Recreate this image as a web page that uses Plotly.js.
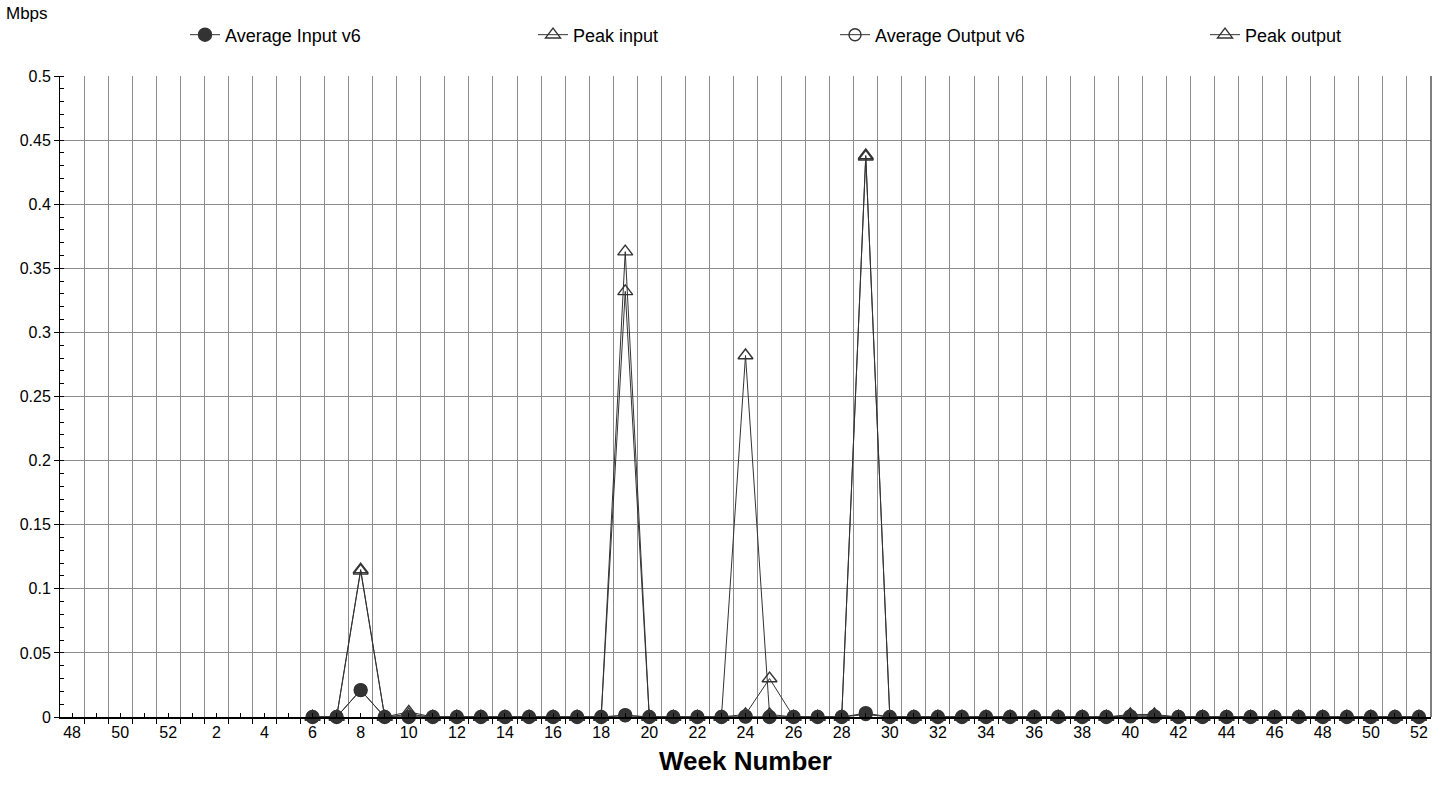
<!DOCTYPE html>
<html>
<head>
<meta charset="utf-8">
<script src="https://cdn.plot.ly/plotly-3.0.1.min.js"></script>
<style>
  html, body { margin: 0; padding: 0; background: #ffffff; }
  #chart { width: 1445px; height: 805px; }
</style>
</head>
<body>
<div id="chart"></div>
<script>
// Week numbers shown along the x axis (end of previous year, then the full year)
const weeks = [48, 49, 50, 51, 52,
  1, 2, 3, 4, 5, 6, 7, 8, 9, 10, 11, 12, 13, 14, 15, 16, 17, 18, 19, 20,
  21, 22, 23, 24, 25, 26, 27, 28, 29, 30, 31, 32, 33, 34, 35, 36, 37, 38, 39, 40,
  41, 42, 43, 44, 45, 46, 47, 48, 49, 50, 51, 52];

// Traffic in Mbps per week (null = no data recorded)
const avgInputV6 = [null, null, null, null, null, null, null, null, null, null,
  0, 0, 0.021, 0, 0, 0, 0, 0, 0, 0, 0, 0, 0, 0.0015, 0,
  0, 0, 0, 0.0005, 0, 0, 0, 0, 0.003, 0, 0, 0, 0, 0, 0, 0, 0, 0, 0, 0.0005,
  0.0005, 0, 0, 0, 0, 0, 0, 0, 0, 0, 0, 0];

const peakInput = [null, null, null, null, null, null, null, null, null, null,
  0, 0, 0.115, 0, 0.004, 0, 0, 0, 0, 0, 0, 0, 0, 0.363, 0,
  0, 0, 0, 0.282, 0.002, 0, 0, 0, 0.438, 0, 0, 0, 0, 0, 0, 0, 0, 0, 0, 0.002,
  0.002, 0, 0, 0, 0, 0, 0, 0, 0, 0, 0, 0];

const avgOutputV6 = [null, null, null, null, null, null, null, null, null, null,
  0, 0, 0.021, 0, 0, 0, 0, 0, 0, 0, 0, 0, 0, 0.001, 0,
  0, 0, 0, 0, 0, 0, 0, 0, 0.002, 0, 0, 0, 0, 0, 0, 0, 0, 0, 0, 0.0005,
  0.0005, 0, 0, 0, 0, 0, 0, 0, 0, 0, 0, 0];

const peakOutput = [null, null, null, null, null, null, null, null, null, null,
  0, 0, 0.114, 0, 0.002, 0, 0, 0, 0, 0, 0, 0, 0, 0.332, 0,
  0, 0, 0, 0.002, 0.03, 0, 0, 0, 0.437, 0, 0, 0, 0, 0, 0, 0, 0, 0, 0, 0.001,
  0.001, 0, 0, 0, 0, 0, 0, 0, 0, 0, 0, 0];

const seriesNames = ["Average Input v6", "Peak input", "Average Output v6", "Peak output"];

// x positions are category indices so gridlines can sit on category boundaries
const xIdx = weeks.map((_, i) => i);
const tickText = weeks.map((w, i) => (i % 2 === 0 ? String(w) : ""));
const boundaries = [];
for (let i = 0; i <= weeks.length; i++) boundaries.push(i - 0.5);

const ink = "#333333";
const FONT = "Liberation Sans, Arial, sans-serif";

function series(y, name, symbol, size, legendId) {
  return {
    x: xIdx, y: y, name: name, type: "scatter", mode: "lines+markers",
    line: { color: ink, width: 1 },
    marker: { symbol: symbol, size: size, color: ink, line: { color: ink, width: 1.4 } },
    connectgaps: false,
    cliponaxis: false,
    legend: legendId
  };
}

const traces = [
  series(avgInputV6, seriesNames[0], "circle", 13, "legend"),
  series(peakInput, seriesNames[1], "triangle-up-open", 13, "legend2"),
  series(avgOutputV6, seriesNames[2], "circle-open", 12, "legend3"),
  series(peakOutput, seriesNames[3], "triangle-up-open", 13, "legend4")
];

function legendAt(xpx) {
  return {
    x: (xpx - 60) / 1371, xref: "paper", xanchor: "left",
    y: 1.064, yref: "paper", yanchor: "middle",
    orientation: "h", bgcolor: "rgba(0,0,0,0)", borderwidth: 0,
    font: { family: FONT, size: 18, color: "#000000" },
    itemwidth: 30
  };
}

const layout = {
  width: 1445, height: 805,
  paper_bgcolor: "#ffffff", plot_bgcolor: "#ffffff",
  margin: { l: 60, r: 14, t: 76, b: 88 },
  showlegend: true,
  legend: legendAt(185),
  legend2: legendAt(533),
  legend3: legendAt(835),
  legend4: legendAt(1205),
  font: { family: FONT, size: 15, color: "#000000" },
  xaxis: {
    range: [-0.5, weeks.length - 0.5],
    tickmode: "array", tickvals: xIdx, ticktext: tickText,
    ticks: "inside", ticklen: 4, tickcolor: "#000000", tickwidth: 1,
    showgrid: false, zeroline: false,
    showline: true, linecolor: "#000000", linewidth: 2,
    tickfont: { family: FONT, size: 16, color: "#000000" },
    minor: {
      tickmode: "array", tickvals: boundaries,
      ticks: "outside", ticklen: 5, tickcolor: "#000000", tickwidth: 1,
      showgrid: true, gridcolor: "#8c8c8c", gridwidth: 1
    },
    title: { text: "<b>Week Number</b>", font: { family: FONT, size: 26, color: "#000000" }, standoff: 12 }
  },
  yaxis: {
    range: [0, 0.5],
    tickmode: "linear", tick0: 0, dtick: 0.05,
    ticks: "outside", ticklen: 5, tickcolor: "#000000", tickwidth: 1,
    showgrid: true, gridcolor: "#8c8c8c", gridwidth: 1,
    zeroline: false,
    showline: true, linecolor: "#000000", linewidth: 1,
    tickfont: { family: FONT, size: 16, color: "#000000" },
    minor: { dtick: 0.01, ticks: "inside", ticklen: 4, tickcolor: "#000000", showgrid: false }
  },
  shapes: [
    { type: "line", xref: "paper", yref: "paper", x0: 1, x1: 1, y0: 0, y1: 1,
      line: { color: "#555555", width: 1.5 } }
  ],
  annotations: [
    { text: "Mbps", xref: "paper", yref: "paper", x: -56 / 1371, y: 1.0 + 62 / 641,
      xanchor: "left", yanchor: "middle", showarrow: false,
      font: { family: FONT, size: 17, color: "#000000" } }
  ]
};

Plotly.newPlot("chart", traces, layout, { staticPlot: true, displayModeBar: false });
</script>
</body>
</html>
